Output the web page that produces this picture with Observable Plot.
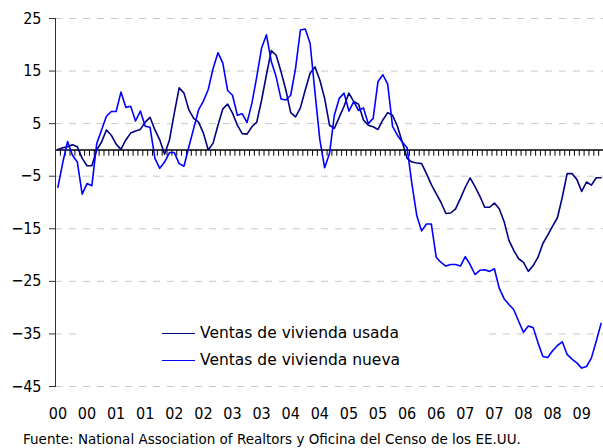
<!DOCTYPE html>
<html>
<head>
<meta charset="utf-8">
<script src="https://cdn.jsdelivr.net/npm/d3@7"></script>
<script src="https://cdn.jsdelivr.net/npm/@observablehq/plot@0.6"></script>
<style>
  html, body { margin: 0; padding: 0; background: white; }
  #wrap { position: relative; width: 603px; height: 448px; overflow: hidden; font-family: "DejaVu Sans", sans-serif; }
  #legend { position: absolute; left: 78px; top: 318px; width: 407px; height: 57px; background: white; }
  .row { position: absolute; left: 84px; height: 20px; display: flex; align-items: center; font-size: 15.5px; color: #000; white-space: nowrap; }
  .sw { width: 33px; height: 0; border-top: 1.6px solid; margin-right: 5px; }
  #caption { position: absolute; left: 23px; top: 431px; font-size: 13.5px; color: #000; white-space: nowrap; }
</style>
</head>
<body>
<div id="wrap">
  <div id="chart"></div>
  <div id="legend"></div>
  <div id="caption"></div>
</div>
<script>
// Monthly year-over-year change (%), Jan 2000 – May 2009
const usada = [0.1,0.4,0.6,1.0,0.6,-1.6,-3.0,-3.0,0,1.5,
  3.8,2.8,1.1,0.1,1.9,3.2,3.6,3.9,5.3,6.2,
  3.8,1.9,-0.8,1.9,7,11.8,10.8,7.6,6,5.3,
  3.2,0,1.3,4.7,7.8,8.7,7,4.7,3.1,3,
  4.4,5.3,9.5,14.3,18.9,18,14.9,11.4,7.1,6.3,
  8,11.4,14.6,15.8,13.3,9.8,4.7,4.1,6.2,8.3,
  10.8,9.2,8.7,5.7,4.7,4.4,3.9,5.7,7.1,6.6,
  4.5,1.5,-1.6,-2.3,-2.5,-2.6,-4.5,-6.6,-8.3,-10,
  -12.1,-12,-11.2,-9.2,-7.1,-5.3,-7,-8.8,-10.9,-10.9,
  -10.1,-11.2,-13.6,-17.2,-19.1,-20.7,-21.4,-23.1,-22,-20.4,
  -17.8,-16.2,-14.5,-12.9,-9,-4.5,-4.5,-5.6,-7.9,-6.1,
  -6.7,-5.3,-5.3];
const nueva = [-7.1,-2.4,1.6,-1.0,-2.3,-8.4,-6.4,-6.8,1.2,3.8,
  6.4,7.3,7.3,11,8.1,8.3,5.5,7.4,4.5,4.3,
  -1.6,-3.5,-2.3,-0.5,-0.5,-2.6,-3.1,0.6,4.1,7.6,
  9.3,11.5,15.5,18.5,16.5,11.3,10.4,6.6,6.9,5.2,
  8.9,13.9,19.4,21.9,16.8,13.9,9.7,9.5,10.4,15.5,
  22.8,23,20.3,11,2,-3.4,-0.7,6.6,9.8,10.8,
  7.4,9.2,7.5,8,5,6,13,14.3,12.5,4.5,
  2.8,1.5,0.4,-6.5,-12.5,-15.4,-14.1,-14.1,-20.4,-21.4,
  -22.1,-21.8,-21.8,-22.1,-20.3,-21.8,-23.7,-22.9,-22.8,-23.1,
  -22.6,-26.3,-28.3,-29.4,-30.4,-32.6,-34.7,-33.5,-33.8,-36.7,
  -39.3,-39.5,-38.2,-37.2,-36.5,-38.9,-39.8,-40.5,-41.5,-41.2,
  -39.6,-36.4,-33];
const xLabels = ["00","00","01","01","02","02","03","03","04","04","05","05","06","06","07","07","08","08","09"];
const yTicks = [25, 15, 5, -5, -15, -25, -35, -45];
const seriesNames = ["Ventas de vivienda usada", "Ventas de vivienda nueva"];
const seriesColors = ["#000080", "#0000ff"];
const source = "Fuente: National Association of Realtors y Oficina del Censo de los EE.UU.";

const N = usada.length;
const rowsU = usada.map((v, i) => ({i, v}));
const rowsN = nueva.map((v, i) => ({i, v}));
const labelIdx = xLabels.map((_, k) => k * 6);
const bounds = d3.range(N + 1).map(i => ({b: i - 0.5, top: 0, bottom: -1.1}));

const chart = Plot.plot({
  width: 603,
  height: 425,
  marginLeft: 55,
  marginRight: 0,
  marginTop: 18,
  marginBottom: 39,
  style: {fontFamily: '"DejaVu Sans Condensed", "DejaVu Sans", sans-serif', fontSize: "16px", background: "white", color: "#000"},
  x: {domain: [-0.5, N - 0.5], type: "linear"},
  y: {domain: [-45, 25]},
  marks: [
    Plot.gridY(yTicks, {stroke: "#c8c8c8", strokeOpacity: 1, strokeDasharray: "7,7"}),
    Plot.link(bounds, {x1: "b", x2: "b", y1: "top", y2: "bottom", stroke: "#000", strokeWidth: 1}),
    Plot.ruleY([0], {stroke: "#000", strokeWidth: 1.4}),
    Plot.frame({anchor: "left", stroke: "#333"}),
    Plot.axisY(yTicks, {tickSize: 6, tickPadding: 8, fontSize: 16, label: null, stroke: "#333"}),
    Plot.axisX(labelIdx, {tickSize: 0, tickPadding: 21, fontSize: 16, label: null, tickFormat: d => xLabels[d / 6]}),
    Plot.line(rowsU, {x: "i", y: "v", stroke: seriesColors[0], strokeWidth: 1.6}),
    Plot.line(rowsN, {x: "i", y: "v", stroke: seriesColors[1], strokeWidth: 1.6})
  ]
});
document.getElementById("chart").appendChild(chart);

const legend = document.getElementById("legend");
const tops = [5, 32];
seriesNames.forEach((name, k) => {
  const row = document.createElement("div");
  row.className = "row";
  row.style.top = tops[k] + "px";
  const sw = document.createElement("span");
  sw.className = "sw";
  sw.style.borderTopColor = seriesColors[k];
  const t = document.createElement("span");
  t.textContent = name;
  row.appendChild(sw);
  row.appendChild(t);
  legend.appendChild(row);
});
document.getElementById("caption").textContent = source;
</script>
</body>
</html>
